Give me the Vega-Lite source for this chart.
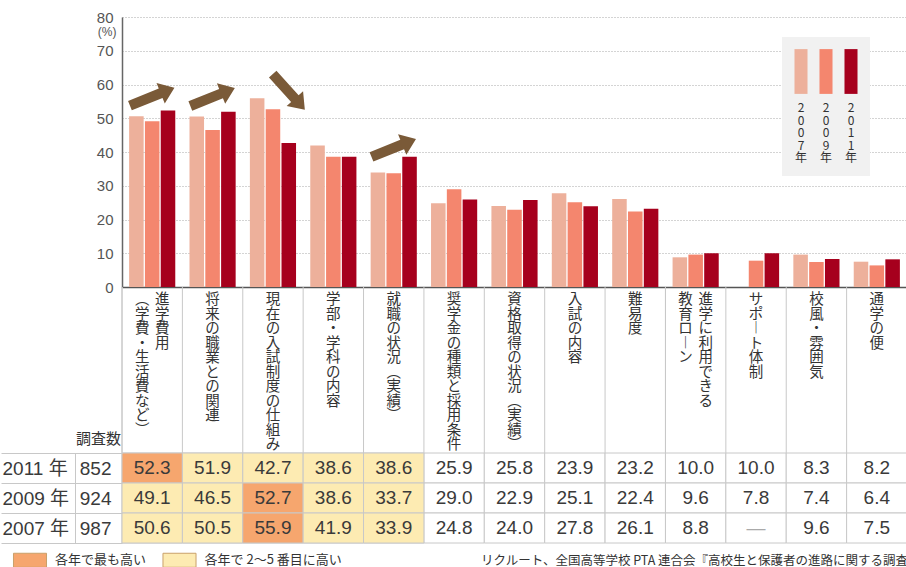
{
  "$schema": "https://vega.github.io/schema/vega-lite/v6.json",
  "padding": {"left": 0, "top": 10, "right": 0, "bottom": 0},
  "background": "white",
  "config": {
    "view": {"stroke": null},
    "font": "Noto Sans CJK JP",
    "axis": {"labelFont": "Liberation Sans", "titleFont": "Liberation Sans"}
  },
  "datasets": {
    "survey": [
      {"category": "進学費用（学費・生活費など）", "year": "2011", "value": 52.3},
      {"category": "進学費用（学費・生活費など）", "year": "2009", "value": 49.1},
      {"category": "進学費用（学費・生活費など）", "year": "2007", "value": 50.6},
      {"category": "将来の職業との関連", "year": "2011", "value": 51.9},
      {"category": "将来の職業との関連", "year": "2009", "value": 46.5},
      {"category": "将来の職業との関連", "year": "2007", "value": 50.5},
      {"category": "現在の入試制度の仕組み", "year": "2011", "value": 42.7},
      {"category": "現在の入試制度の仕組み", "year": "2009", "value": 52.7},
      {"category": "現在の入試制度の仕組み", "year": "2007", "value": 55.9},
      {"category": "学部・学科の内容", "year": "2011", "value": 38.6},
      {"category": "学部・学科の内容", "year": "2009", "value": 38.6},
      {"category": "学部・学科の内容", "year": "2007", "value": 41.9},
      {"category": "就職の状況（実績）", "year": "2011", "value": 38.6},
      {"category": "就職の状況（実績）", "year": "2009", "value": 33.7},
      {"category": "就職の状況（実績）", "year": "2007", "value": 33.9},
      {"category": "奨学金の種類と採用条件", "year": "2011", "value": 25.9},
      {"category": "奨学金の種類と採用条件", "year": "2009", "value": 29.0},
      {"category": "奨学金の種類と採用条件", "year": "2007", "value": 24.8},
      {"category": "資格取得の状況（実績）", "year": "2011", "value": 25.8},
      {"category": "資格取得の状況（実績）", "year": "2009", "value": 22.9},
      {"category": "資格取得の状況（実績）", "year": "2007", "value": 24.0},
      {"category": "入試の内容", "year": "2011", "value": 23.9},
      {"category": "入試の内容", "year": "2009", "value": 25.1},
      {"category": "入試の内容", "year": "2007", "value": 27.8},
      {"category": "難易度", "year": "2011", "value": 23.2},
      {"category": "難易度", "year": "2009", "value": 22.4},
      {"category": "難易度", "year": "2007", "value": 26.1},
      {"category": "進学に利用できる教育ローン", "year": "2011", "value": 10.0},
      {"category": "進学に利用できる教育ローン", "year": "2009", "value": 9.6},
      {"category": "進学に利用できる教育ローン", "year": "2007", "value": 8.8},
      {"category": "サポート体制", "year": "2011", "value": 10.0},
      {"category": "サポート体制", "year": "2009", "value": 7.8},
      {"category": "サポート体制", "year": "2007", "value": null},
      {"category": "校風・雰囲気", "year": "2011", "value": 8.3},
      {"category": "校風・雰囲気", "year": "2009", "value": 7.4},
      {"category": "校風・雰囲気", "year": "2007", "value": 9.6},
      {"category": "通学の便", "year": "2011", "value": 8.2},
      {"category": "通学の便", "year": "2009", "value": 6.4},
      {"category": "通学の便", "year": "2007", "value": 7.5}
    ],
    "labels": [
      {"category": "進学費用（学費・生活費など）", "part": "R", "text": "進学費用"},
      {"category": "進学費用（学費・生活費など）", "part": "L", "text": "︵学費・生活費など︶"},
      {"category": "将来の職業との関連", "part": "C", "text": "将来の職業との関連"},
      {"category": "現在の入試制度の仕組み", "part": "C", "text": "現在の入試制度の仕組み"},
      {"category": "学部・学科の内容", "part": "C", "text": "学部・学科の内容"},
      {"category": "就職の状況（実績）", "part": "C", "text": "就職の状況︵実績︶"},
      {"category": "奨学金の種類と採用条件", "part": "C", "text": "奨学金の種類と採用条件"},
      {"category": "資格取得の状況（実績）", "part": "C", "text": "資格取得の状況︵実績︶"},
      {"category": "入試の内容", "part": "C", "text": "入試の内容"},
      {"category": "難易度", "part": "C", "text": "難易度"},
      {"category": "進学に利用できる教育ローン", "part": "R", "text": "進学に利用できる"},
      {"category": "進学に利用できる教育ローン", "part": "L", "text": "教育ロ︱ン"},
      {"category": "サポート体制", "part": "C", "text": "サポ︱ト体制"},
      {"category": "校風・雰囲気", "part": "C", "text": "校風・雰囲気"},
      {"category": "通学の便", "part": "C", "text": "通学の便"}
    ],
    "samples": [
      {"year": "2011", "n": 852},
      {"year": "2009", "n": 924},
      {"year": "2007", "n": 987}
    ],
    "arrows": [
      {"category": "進学費用（学費・生活費など）", "year": "2009", "trend": "up", "level": 56.4},
      {"category": "将来の職業との関連", "year": "2009", "trend": "up", "level": 56.3},
      {"category": "現在の入試制度の仕組み", "year": "2011", "trend": "down", "level": 57.8},
      {"category": "就職の状況（実績）", "year": "2009", "trend": "up", "level": 41.2}
    ]
  },
  "spacing": 0,
  "bounds": "flush",
  "vconcat": [
    {
      "width": 785,
      "height": 270,
      "layer": [
        {
          "data": {"name": "survey"},
          "transform": [{"filter": "datum.value != null"}],
          "mark": {"type": "bar"},
          "encoding": {
            "x": {
              "field": "category", "type": "nominal", "sort": null,
              "scale": {"paddingInner": 0, "paddingOuter": 0},
              "axis": {"title": null, "labels": false, "ticks": false, "domainColor": "#555", "domainWidth": 1.5}
            },
            "xOffset": {
              "field": "year", "type": "nominal",
              "scale": {"domain": ["2007", "2009", "2011"], "paddingInner": 0.08, "paddingOuter": 0.45}
            },
            "y": {
              "field": "value", "type": "quantitative",
              "scale": {"domain": [0, 80]},
              "axis": {
                "values": [0, 10, 20, 30, 40, 50, 60, 70, 80], "tickCount": 12,
                "labelOverlap": false,
                "title": "(%)", "titleAngle": 0, "titleX": -6, "titleY": 14,
                "titleAlign": "right", "titleBaseline": "middle", "titleFontSize": 12,
                "titleFontWeight": "normal", "titleColor": "#555",
                "labelFontSize": 15, "labelColor": "#555", "labelPadding": 9,
                "ticks": false, "domainColor": "#666", "domainWidth": 1.5,
                "gridDash": [1, 2], "gridColor": "#a8a8a8"
              }
            },
            "color": {
              "field": "year", "type": "nominal",
              "scale": {"domain": ["2007", "2009", "2011"], "range": ["#EDB09B", "#F4866E", "#A6001D"]},
              "legend": {
                "orient": "none", "legendX": 660, "legendY": 20,
                "direction": "horizontal",
                "title": "\u00a0", "titleFontSize": 10, "titlePadding": 37,
                "fillColor": "#f1f1f1", "padding": 12,
                "symbolType": "M-0.93,-7.7L0.93,-7.7L0.93,-1.3L-0.93,-1.3Z",
                "symbolSize": 196, "symbolStrokeWidth": 0, "symbolOpacity": 1,
                "labelExpr": "split(datum.label + '年', '')",
                "labelAlign": "center", "labelBaseline": "top", "labelOffset": -7,
                "labelFont": "Noto Sans CJK JP", "labelFontSize": 12, "labelColor": "#333",
                "columnPadding": 11,
                "encode": {"labels": {"update": {"lineHeight": {"value": 12.5}}}}
              }
            }
          }
        },
        {
          "data": {"name": "arrows"},
          "mark": {
            "type": "point", "filled": true, "opacity": 1, "size": 2304, "color": "#7A5A38",
            "shape": "M-1,-0.21L0.38,-0.21L0.38,-0.46L1,0L0.38,0.46L0.38,0.21L-1,0.21Z"
          },
          "encoding": {
            "x": {"field": "category", "type": "nominal", "sort": null},
            "xOffset": {"field": "year", "type": "nominal"},
            "y": {
              "field": "level", "type": "quantitative",
              "axis": {
                "values": [0, 10, 20, 30, 40, 50, 60, 70, 80], "tickCount": 12,
                "labelOverlap": false,
                "title": "(%)", "titleAngle": 0, "titleX": -6, "titleY": 14,
                "titleAlign": "right", "titleBaseline": "middle", "titleFontSize": 12,
                "titleFontWeight": "normal", "titleColor": "#555",
                "labelFontSize": 15, "labelColor": "#555", "labelPadding": 9,
                "ticks": false, "domainColor": "#666", "domainWidth": 1.5,
                "gridDash": [1, 2], "gridColor": "#a8a8a8"
              }
            },
            "angle": {"field": "trend", "type": "nominal", "scale": {"domain": ["up", "down"], "range": [-22, 48]}, "legend": null}
          }
        }
      ]
    },
    {
      "width": 785,
      "height": 166,
      "data": {"name": "labels"},
      "layer": [
        {
          "mark": {"type": "rule", "color": "#c8c8c8", "strokeWidth": 1},
          "encoding": {
            "x": {"field": "category", "type": "nominal", "sort": null, "bandPosition": 0,
                  "scale": {"paddingInner": 0, "paddingOuter": 0}, "axis": null}
          }
        },
        {
          "transform": [{"filter": "datum.part == 'C'"}],
          "mark": {
            "type": "text", "baseline": "top", "align": "center",
            "font": "Noto Sans CJK JP", "fontSize": 14.5, "lineHeight": 14.5, "color": "#333",
            "text": {"expr": "split(datum.text, '')"}
          },
          "encoding": {
            "x": {"field": "category", "type": "nominal", "sort": null},
            "y": {"value": 6}
          }
        },
        {
          "transform": [{"filter": "datum.part != 'C'"}],
          "mark": {
            "type": "text", "baseline": "top", "align": "center",
            "font": "Noto Sans CJK JP", "fontSize": 14.5, "lineHeight": 14.5, "color": "#333",
            "text": {"expr": "split(datum.text, '')"}
          },
          "encoding": {
            "x": {"field": "category", "type": "nominal", "sort": null},
            "xOffset": {"field": "part", "type": "nominal", "scale": {"domain": ["L", "R"], "paddingInner": 0, "paddingOuter": 1}},
            "y": {"value": 6}
          }
        }
      ]
    },
    {
      "width": 785,
      "height": 90,
      "title": {
        "text": "リクルート、全国高等学校 PTA 連合会『高校生と保護者の進路に関する調査』",
        "orient": "bottom", "anchor": "start", "frame": "group", "dx": 359, "offset": -15,
        "baseline": "top",
        "font": "Noto Sans CJK JP", "fontSize": 12.5, "fontWeight": "normal", "color": "#333"
      },
      "layer": [
        {
          "data": {"name": "survey"},
          "layer": [
            {
              "mark": {"type": "rect", "fill": "white", "stroke": "#c8c8c8", "strokeWidth": 1},
              "encoding": {
                "x": {"field": "category", "type": "nominal", "sort": null, "axis": null,
                      "scale": {"paddingInner": 0, "paddingOuter": 0}},
                "y": {
                  "field": "year", "type": "nominal", "sort": ["2011", "2009", "2007"],
                  "scale": {"paddingInner": 0, "paddingOuter": 0},
                  "axis": {
                    "title": null, "orient": "left", "domain": false,
                    "ticks": true, "tickSize": 121, "tickBand": "extent", "tickColor": "#c8c8c8", "tickWidth": 1,
                    "labelAlign": "left", "labelPadding": -1,
                    "labelExpr": "datum.label ? datum.label + ' 年' : ''",
                    "labelFont": "Liberation Sans, Noto Sans CJK JP", "labelFontSize": 19, "labelColor": "#3a3a3a"
                  }
                }
              }
            },
            {
              "transform": [
                {"filter": "datum.value != null"},
                {"window": [{"op": "rank", "as": "rank"}], "groupby": ["year"], "sort": [{"field": "value", "order": "descending"}]},
                {"filter": "datum.rank <= 5"},
                {"calculate": "datum.rank == 1 ? '各年で最も高い' : '各年で 2〜5 番目に高い'", "as": "class"}
              ],
              "mark": {"type": "rect", "stroke": "#c8c8c8", "strokeWidth": 1},
              "encoding": {
                "x": {"field": "category", "type": "nominal", "sort": null},
                "y": {"field": "year", "type": "nominal", "sort": ["2011", "2009", "2007"]},
                "fill": {
                  "field": "class", "type": "nominal",
                  "scale": {"domain": ["各年で最も高い", "各年で 2〜5 番目に高い"], "range": ["#F6A66E", "#FDEBB2"]},
                  "legend": {
                    "orient": "none", "legendX": -106.5, "legendY": 92.5,
                    "direction": "horizontal", "title": null, "padding": 0,
                    "symbolType": "M-1.18,-0.5L1.18,-0.5L1.18,0.5L-1.18,0.5Z", "symbolSize": 784,
                    "symbolStrokeColor": "#c9a06a", "symbolStrokeWidth": 1, "symbolOpacity": 1,
                    "labelOffset": 10.5, "labelFont": "Noto Sans CJK JP", "labelFontSize": 13, "labelColor": "#333",
                    "columnPadding": 13.5
                  }
                }
              }
            },
            {
              "mark": {"type": "text", "font": "Liberation Sans", "fontSize": 19},
              "encoding": {
                "x": {"field": "category", "type": "nominal", "sort": null},
                "y": {"field": "year", "type": "nominal", "sort": ["2011", "2009", "2007"]},
                "text": {"condition": {"test": "datum.value == null", "value": "—"}, "field": "value", "type": "quantitative", "format": ".1f"},
                "color": {"condition": {"test": "datum.value == null", "value": "#aaaaaa"}, "value": "#3a3a3a"}
              }
            }
          ]
        },
        {
          "data": {"name": "samples"},
          "mark": {"type": "point", "opacity": 0},
          "encoding": {
            "y": {
              "field": "n", "type": "ordinal", "sort": "ascending",
              "scale": {"paddingInner": 0, "paddingOuter": 0},
              "axis": {
                "title": "調査数", "orient": "left", "offset": 47,
                "domain": true, "domainColor": "#c8c8c8", "ticks": false,
                "labelAlign": "right", "labelPadding": -36,
                "labelFontSize": 19, "labelColor": "#3a3a3a",
                "titleAngle": 0, "titleX": 23, "titleY": -15, "titleAlign": "center", "titleBaseline": "middle",
                "titleFont": "Noto Sans CJK JP", "titleFontSize": 15, "titleFontWeight": "normal", "titleColor": "#333"
              }
            }
          }
        }
      ],
      "resolve": {"scale": {"y": "independent"}, "axis": {"y": "independent"}}
    }
  ],
  "resolve": {
    "scale": {"x": "independent", "xOffset": "independent", "y": "independent", "color": "independent", "fill": "independent"},
    "legend": {"color": "independent", "fill": "independent"}
  }
}
